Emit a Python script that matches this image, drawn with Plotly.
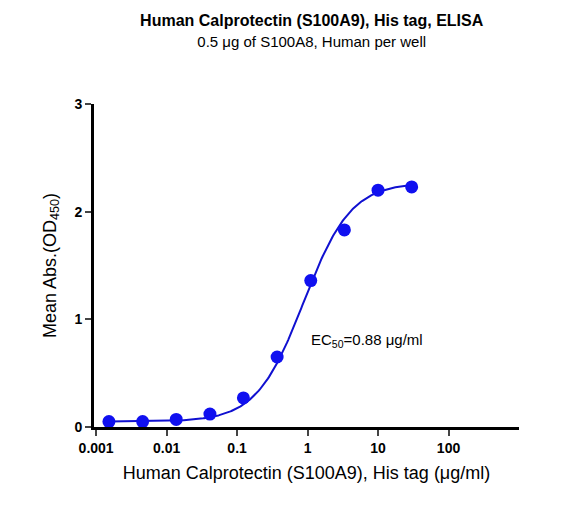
import numpy as np
import plotly.graph_objects as go

conc = [0.00152, 0.00457, 0.0137, 0.0412, 0.123, 0.37, 1.11, 3.33, 10, 30]
od450 = [0.05, 0.05, 0.07, 0.12, 0.27, 0.65, 1.36, 1.83, 2.20, 2.23]
tick_vals = [0.001, 0.01, 0.1, 1, 10, 100]
tick_text = ["<b>0.001</b>", "<b>0.01</b>", "<b>0.1</b>", "<b>1</b>", "<b>10</b>", "<b>100</b>"]

# 4PL fit parameters
bottom, top, ec50, hill = 0.05, 2.27, 0.88, 1.3

xs = np.logspace(np.log10(conc[0]), np.log10(conc[-1]), 300)
ys = bottom + (top - bottom) / (1 + (ec50 / xs) ** hill)

fig = go.Figure()
fig.add_trace(go.Scatter(x=xs, y=ys, mode="lines", line=dict(color="#1010d0", width=2)))
fig.add_trace(go.Scatter(x=conc, y=od450, mode="markers",
                         marker=dict(color="#1010f0", size=13)))

fig.update_layout(
    width=573, height=507, showlegend=False,
    paper_bgcolor="white", plot_bgcolor="white",
    margin=dict(l=86, r=62, t=96, b=88),
    font=dict(family="Liberation Sans, Arial", color="black", size=15),
    title=dict(
        text="<b>Human Calprotectin (S100A9), His tag, ELISA</b><br>"
             "<span style='font-size:15px'>0.5 μg of S100A8, Human per well</span>",
        x=0.53, xanchor="center", y=0.965, yanchor="top", font=dict(size=16)),
    annotations=[dict(text="EC<sub>50</sub>=0.88 μg/ml", x=np.log10(7), y=0.8,
                      xref="x", yref="y", showarrow=False, font=dict(size=15))],
)
fig.update_xaxes(type="log", range=[-3.03, 3.0], tickvals=tick_vals, ticktext=tick_text,
                 showline=True, linecolor="black", linewidth=3, ticks="outside",
                 tickwidth=2, ticklen=6, showgrid=False, zeroline=False,
                 tickfont=dict(size=14),
                 title=dict(text="Human Calprotectin (S100A9), His tag (μg/ml)", standoff=12))
fig.update_yaxes(range=[0, 3], tickvals=[0, 1, 2, 3],
                 ticktext=["<b>0</b>", "<b>1</b>", "<b>2</b>", "<b>3</b>"],
                 showline=True, linecolor="black",
                 linewidth=3, ticks="outside", tickwidth=2, ticklen=6, showgrid=False,
                 zeroline=False, tickfont=dict(size=14),
                 title=dict(text="Mean Abs.(OD<sub>450</sub>)", standoff=14))

fig.write_html("out.html")
